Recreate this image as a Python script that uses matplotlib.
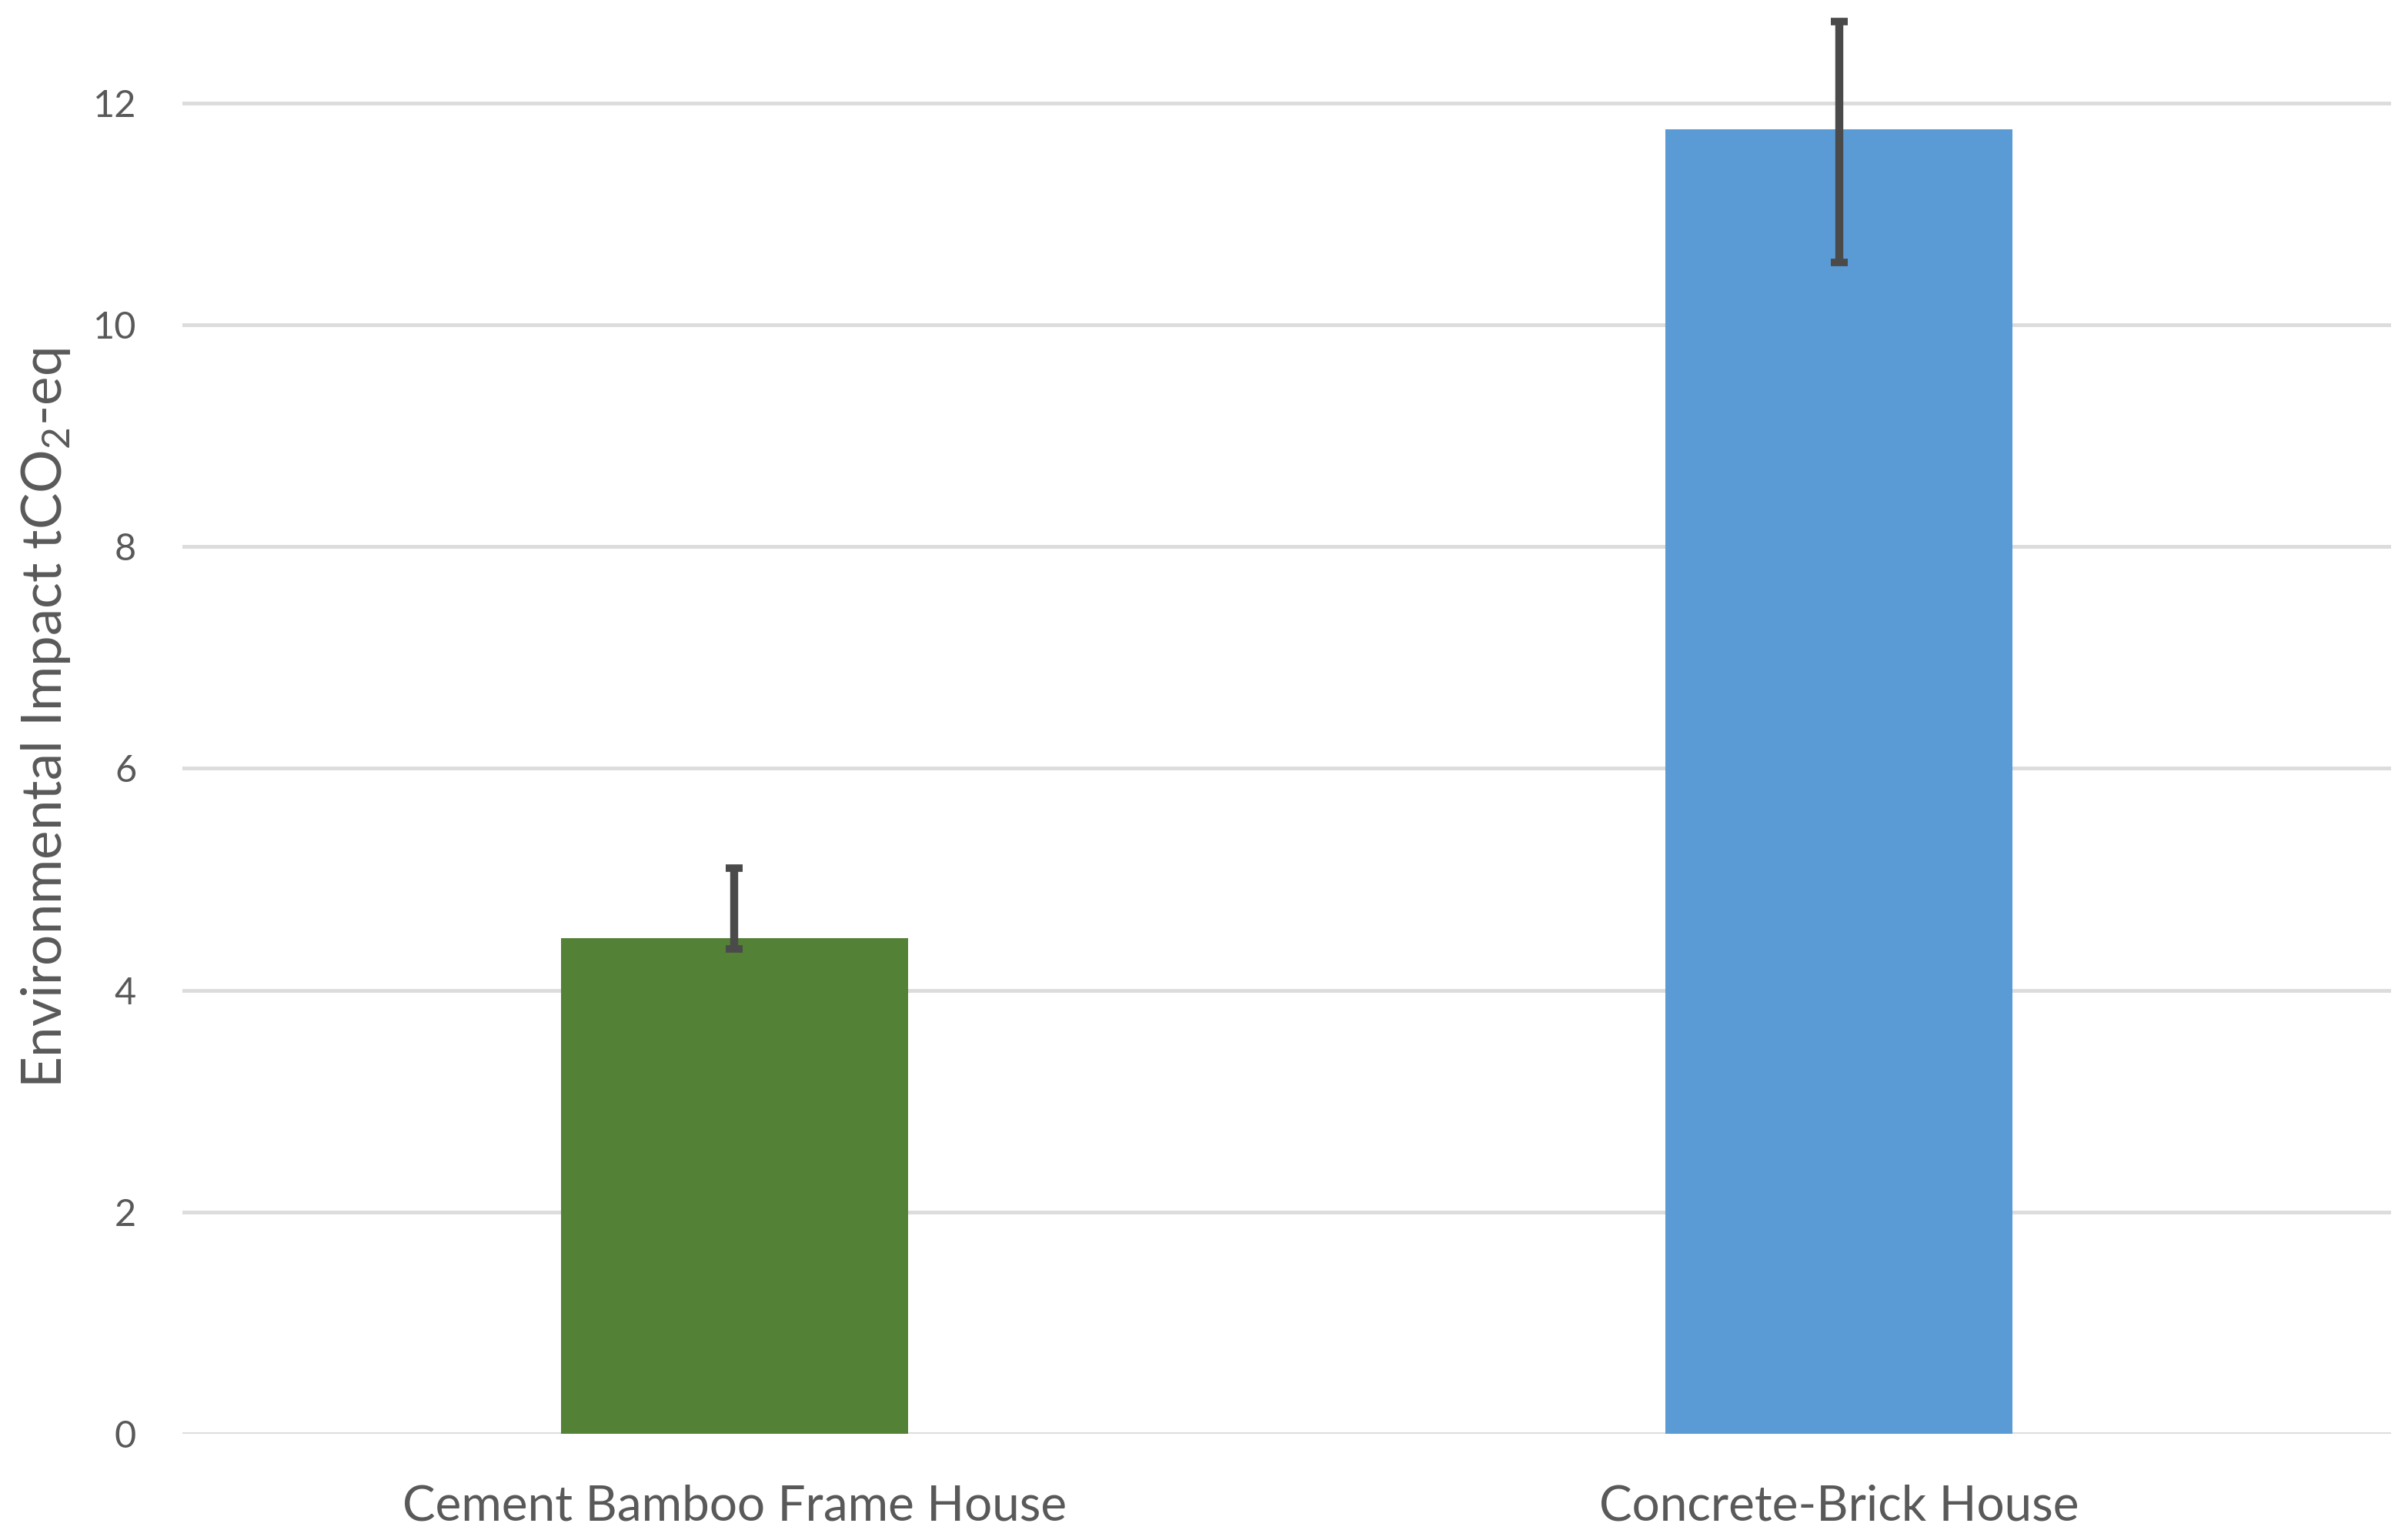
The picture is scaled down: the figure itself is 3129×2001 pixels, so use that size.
import matplotlib
matplotlib.use("Agg")
import matplotlib.pyplot as plt
import numpy as np

categories = ["Cement Bamboo Frame House", "Concrete-Brick House"]
values = [4.47, 11.76]
err_lower = [0.10, 1.20]
err_upper = [0.63, 0.97]
bar_colors = ["#538135", "#5B9BD5"]
yticks = [0, 2, 4, 6, 8, 10, 12]

plt.rcParams['font.family'] = ['Lato', 'DejaVu Sans']
plt.rcParams['mathtext.fontset'] = 'custom'
plt.rcParams['mathtext.rm'] = 'Lato'
plt.rcParams['mathtext.it'] = 'Lato:italic'
plt.rcParams['mathtext.bf'] = 'Lato:bold'

text_color = "#595959"

fig = plt.figure(figsize=(31.29, 20.01), dpi=100)
ax = fig.add_axes([0.0757, 0.069, 0.9173, 0.929])

x = np.arange(len(categories))
ax.bar(x, values, width=0.314, color=bar_colors, zorder=2)
ax.errorbar(x, values, yerr=[err_lower, err_upper], fmt='none',
            ecolor="#4a4a4a", elinewidth=7.5, capsize=8, capthick=7,
            zorder=3, clip_on=False)

ax.set_xlim(-0.5, 1.5)
ax.set_ylim(0, 12.9)
ax.set_yticks(yticks)
ax.set_yticklabels([str(t) for t in yticks])
ax.set_xticks(x)
ax.set_xticklabels(categories)

ax.grid(axis='y', color="#DCDCDC", linewidth=3.5, zorder=0)
ax.set_axisbelow(True)
for s in ax.spines.values():
    s.set_visible(False)

ax.tick_params(axis='y', length=0, pad=43, labelsize=35, labelcolor=text_color)
ax.tick_params(axis='x', length=0, pad=47, labelsize=46, labelcolor=text_color)

ax.set_ylabel(r"Environmental Impact tCO$_2$-eq", fontsize=51, color=text_color)
ax.yaxis.set_label_coords(-0.0497, 0.5)

fig.savefig("out.png", dpi=100, facecolor="white")
